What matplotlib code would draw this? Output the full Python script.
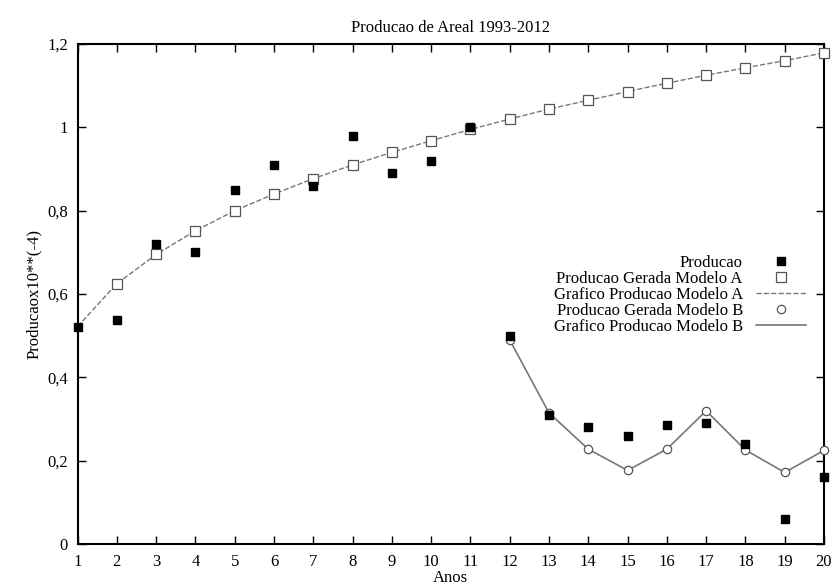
import matplotlib
matplotlib.use('Agg')
import matplotlib.pyplot as plt
from matplotlib.ticker import FuncFormatter

plt.rcParams.update({
    'font.family': ['Liberation Serif', 'DejaVu Serif'],
    'font.size': 12,
    'xtick.direction': 'in',
    'ytick.direction': 'in',
    'xtick.top': True,
    'ytick.right': True,
})

# Observed production (black squares)
anos = list(range(1, 21))
producao = [0.522, 0.539, 0.72, 0.70, 0.85, 0.91, 0.86, 0.98, 0.89, 0.92,
            1.00, 0.50, 0.31, 0.28, 0.26, 0.285, 0.29, 0.24, 0.06, 0.16]

# Model A (years 1..20)
anos_a = list(range(1, 21))
modelo_a = [0.522, 0.625, 0.695, 0.752, 0.800, 0.840, 0.877, 0.910, 0.940, 0.968,
            0.995, 1.020, 1.044, 1.065, 1.086, 1.106, 1.125, 1.143, 1.160, 1.179]

# Model B (years 12..20)
anos_b = list(range(12, 21))
modelo_b = [0.49, 0.315, 0.228, 0.177, 0.228, 0.32, 0.226, 0.172, 0.225]

fig = plt.figure(figsize=(8.34, 5.87), dpi=100)
ax = fig.add_axes([0.093, 0.073, 0.895, 0.852])

ax.plot(anos, producao, 's', color='black', markersize=6, label='Producao',
        zorder=4, clip_on=False)
ax.plot(anos_a[1:], modelo_a[1:], 's', mfc='white', mec='#555555', mew=0.9,
        markersize=6.5, linestyle='none', label='Producao Gerada Modelo A',
        zorder=3, clip_on=False)
ax.plot(anos_a, modelo_a, '--', color='#777777', lw=1.0,
        label='Grafico Producao Modelo A', zorder=2)
ax.plot(anos_b, modelo_b, 'o', mfc='white', mec='#555555', mew=0.9,
        markersize=6, linestyle='none', label='Producao Gerada Modelo B',
        zorder=3, clip_on=False)
ax.plot(anos_b, modelo_b, '-', color='#777777', lw=1.2,
        label='Grafico Producao Modelo B', zorder=2)

ax.set_xlim(1, 20)
ax.set_ylim(0, 1.2)
ax.set_xticks(anos)
ax.set_yticks([0, 0.2, 0.4, 0.6, 0.8, 1.0, 1.2])
ax.yaxis.set_major_formatter(FuncFormatter(
    lambda v, p: ('%g' % round(v, 1)).replace('.', ',')))
ax.tick_params(length=6, width=1, pad=7, labelsize=12)
for s in ax.spines.values():
    s.set_linewidth(1.5)

ax.set_title('Producao de Areal 1993-2012', fontsize=12, pad=9)
ax.set_xlabel('Anos', fontsize=12, labelpad=0)
ax.set_ylabel('Producaox10**(-4)', fontsize=12, labelpad=4)

ax.legend(loc='upper right', bbox_to_anchor=(0.985, 0.592), frameon=False,
          markerfirst=False, handlelength=3.0, handletextpad=0.8,
          labelspacing=0.0, fontsize=12, borderaxespad=0)

fig.savefig('out.png', dpi=100)
